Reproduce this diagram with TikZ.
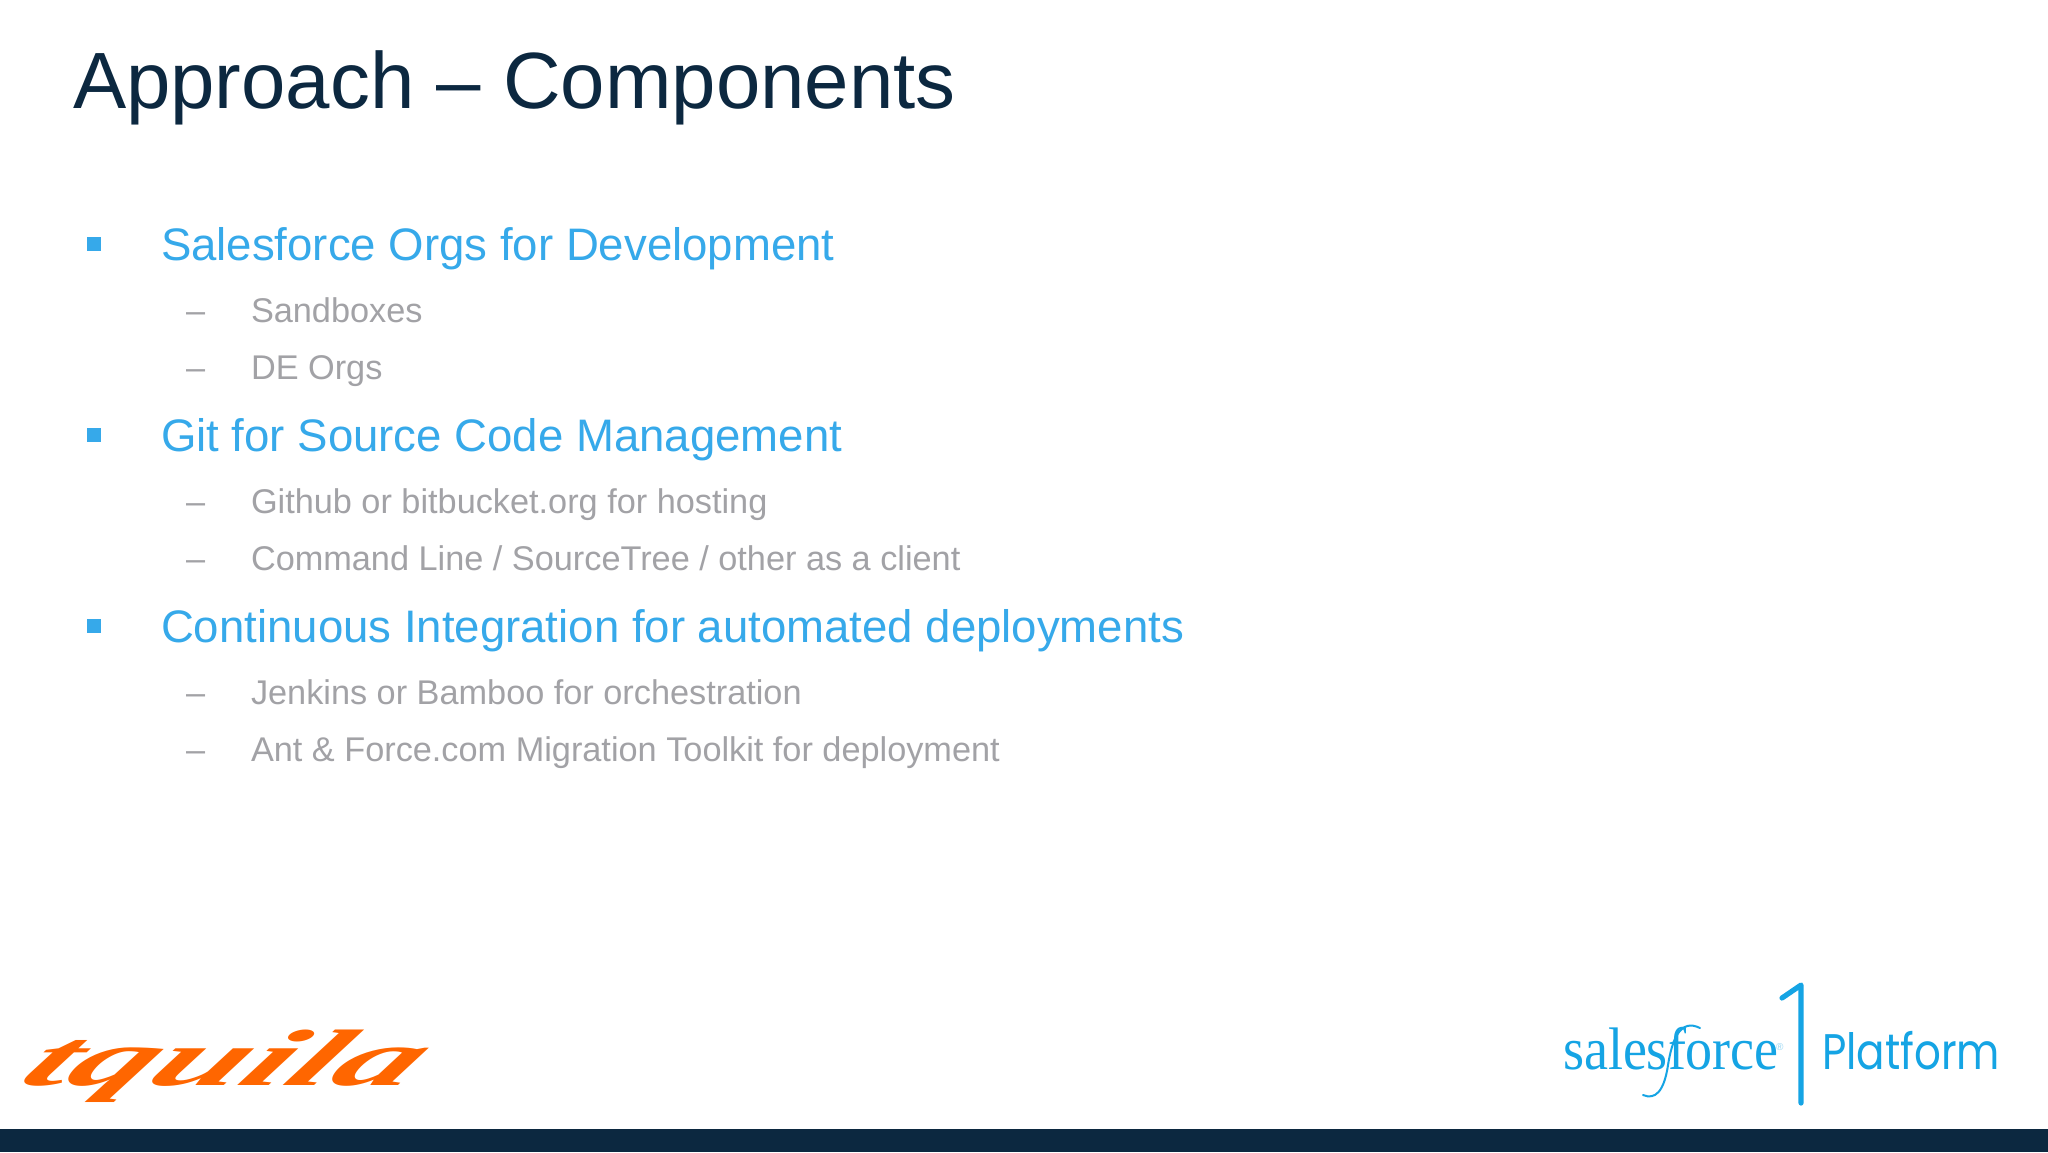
\documentclass[tikz,border=0pt]{standalone}
\usepackage{fontspec}
\setmainfont{Liberation Sans}
\newfontfamily\serifb{Liberation Serif}
\newfontfamily\logob{Poppins}
\definecolor{navy}{HTML}{0C2840}
\definecolor{sky}{HTML}{36A9EA}
\definecolor{greyt}{HTML}{A2A2A6}
\definecolor{orangel}{HTML}{FF6600}
\definecolor{sfblue}{HTML}{15A4E4}
\tikzset{
  txt/.style={anchor=base west,inner sep=0pt,outer sep=0pt},
  titletxt/.style={txt,text=navy,font=\fontsize{39.9}{48}\selectfont},
  leadtxt/.style={txt,text=sky,font=\fontsize{22.78}{28}\selectfont},
  subtxt/.style={txt,text=greyt,font=\fontsize{17.14}{21}\selectfont},
  bulletbox/.style={fill=sky,draw=none},
}
\begin{document}
\begin{tikzpicture}[x=0.5pt,y=-0.5pt]
\useasboundingbox (0,0) rectangle (2048,1152);
\fill[white] (0,0) rectangle (2048,1152);
\fill[navy] (0,1129) rectangle (2048,1152);
\node[titletxt] (title) at (73,108) {Approach – Components};
% level 1
\fill[bulletbox] (87,237) rectangle (101,251);
\fill[bulletbox] (87,428) rectangle (101,442);
\fill[bulletbox] (87,619) rectangle (101,633);
\node[leadtxt] (l1) at (161,260) {Salesforce Orgs for Development};
\node[leadtxt] (l2) at (161,451) {Git for Source Code Management};
\node[leadtxt] (l3) at (161,642) {Continuous Integration for automated deployments};
% level 2
\foreach \n/\y/\t in {a/322/{Sandboxes},b/379/{DE Orgs},c/513/{Github or bitbucket.org for hosting},d/570/{Command Line / SourceTree / other as a client},e/704/{Jenkins or Bamboo for orchestration},f/761/{Ant \& Force.com Migration Toolkit for deployment}}{
  \node[subtxt] (dash\n) at (186,\y) {–};
  \node[subtxt] (sub\n) at (251,\y) {\t};
}
% tquila logo
\node[txt,text=orangel,font=\serifb\bfseries\itshape\fontsize{40}{40}\selectfont,xscale=2.05,xslant=0.35] (tq) at (15,1085) {tquila};
% salesforce logo
\node[txt,text=sfblue,font=\serifb\fontsize{30}{34}\selectfont,xscale=0.9] (sf) at (1563,1069) {salesforce};
\node[txt,text=sfblue!45,font=\fontsize{5}{6}\selectfont] (reg) at (1776,1050) {®};
\draw[sfblue,line width=1pt,line cap=round] (1700,1028) .. controls (1680,1018) and (1672,1040) .. (1668,1065) .. controls (1664,1092) and (1655,1100) .. (1643,1095);
\coordinate (onea) at (1782,998);
\coordinate (oneb) at (1801,985);
\coordinate (onec) at (1801,1103);
\draw[sfblue,line width=2.6pt,line join=round,line cap=round] (onea) -- (oneb) -- (onec);
\node[txt,text=sfblue,font=\logob\fontsize{25}{30}\selectfont,xscale=0.84] (pf) at (1822,1069) {Platform};
\end{tikzpicture}
\end{document}
